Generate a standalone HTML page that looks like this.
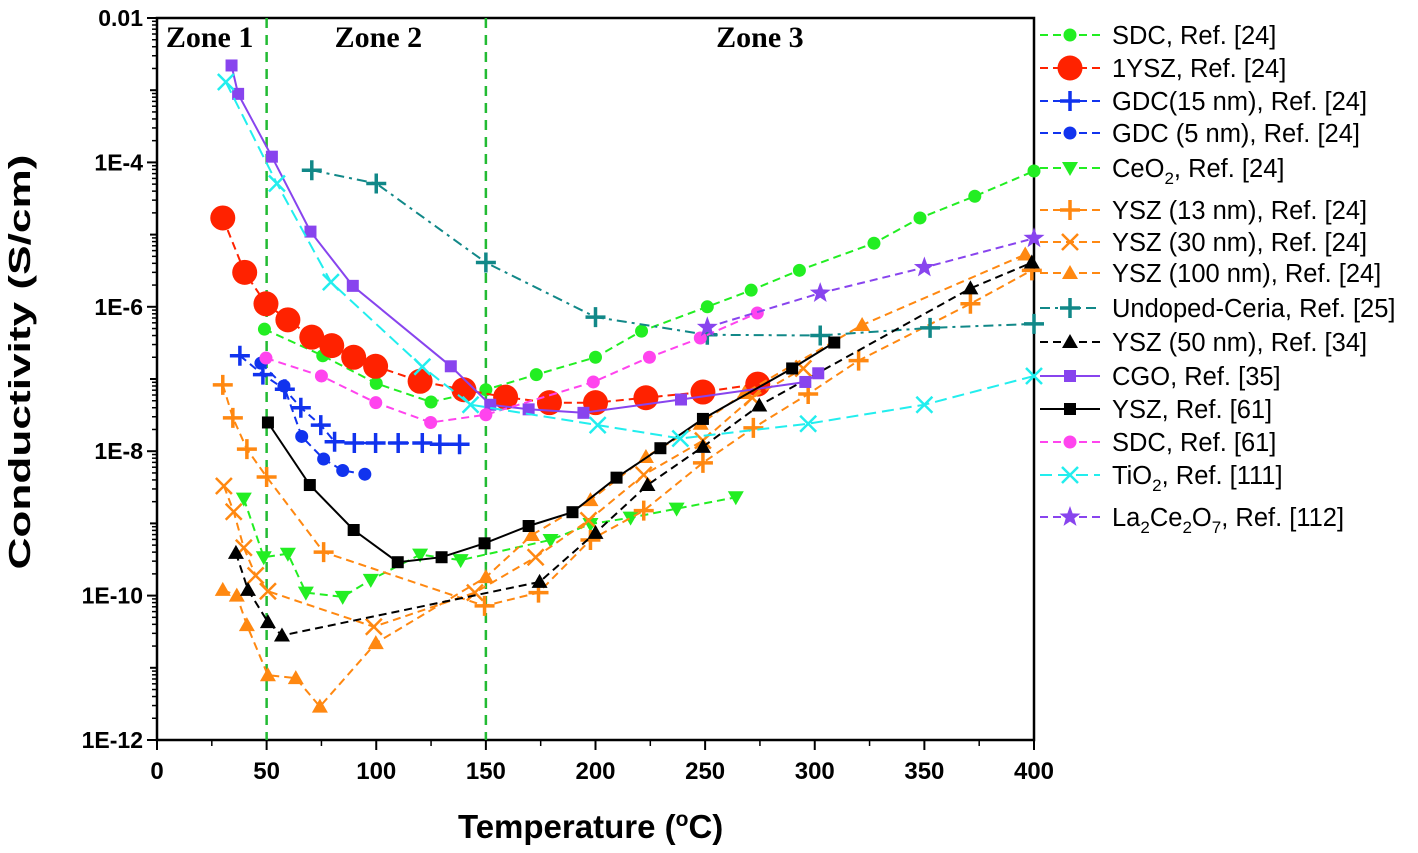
<!DOCTYPE html>
<html><head><meta charset="utf-8"><style>
body{margin:0;background:#fff;}
svg text{font-family:"Liberation Sans",sans-serif;}
</style></head><body>
<svg id="chart" width="1418" height="848" viewBox="0 0 1418 848" xmlns="http://www.w3.org/2000/svg"></svg>
<script>
const xTicks=[0,50,100,150,200,250,300,350,400];
const yTickExps=[-2,-4,-6,-8,-10,-12];
const yTickLabels=["0.01","1E-4","1E-6","1E-8","1E-10","1E-12"];
const zoneBounds=[50,150];
const zoneLabels=["Zone 1","Zone 2","Zone 3"];
const zoneLabelT=[24,101,275];

const sdc24T=[49,75.6,100,125,150,173,200,221,251,271,293,327,348,373,400];
const sdc24V=[4.9e-7,2.1e-7,8.7e-8,4.8e-8,7.1e-8,1.15e-7,2.0e-7,4.6e-7,1e-6,1.7e-6,3.2e-6,7.6e-6,1.7e-5,3.4e-5,7.6e-5];
const ysz1T=[30,40,49.7,59.7,70.6,79.7,89.7,99.7,120,140,159,179,200,223,249,274];
const ysz1V=[1.7e-5,3.0e-6,1.1e-6,6.6e-7,3.8e-7,2.9e-7,2.0e-7,1.5e-7,9.3e-8,7.1e-8,5.6e-8,4.7e-8,4.7e-8,5.5e-8,6.6e-8,8.5e-8];
const gdc15T=[37.8,48.3,58.3,65.6,74.7,81,90,99.7,110,121,129,138];
const gdc15V=[2.1e-7,1.15e-7,7.2e-8,4e-8,2.3e-8,1.35e-8,1.3e-8,1.3e-8,1.3e-8,1.3e-8,1.25e-8,1.25e-8];
const gdc5T=[47.4,57.9,66,76,84.7,94.8];
const gdc5V=[1.66e-7,8e-8,1.6e-8,7.8e-9,5.4e-9,4.8e-9];
const ceo2T=[39.6,48.7,59.7,67.9,84.7,97.5,120,138.5,179.5,197.7,216,237,264];
const ceo2V=[2.2e-9,3.4e-10,3.8e-10,1.1e-10,9.6e-11,1.65e-10,3.7e-10,3.1e-10,5.9e-10,9.8e-10,1.2e-9,1.6e-9,2.3e-9];
const ysz13T=[30,34.6,41,50,76,149.4,174,197.7,222,249,272,297,320,371,399];
const ysz13V=[8.3e-8,2.9e-8,1.07e-8,4.4e-9,4e-10,7.2e-11,1.1e-10,5.9e-10,1.5e-9,6.9e-9,2.1e-8,6.2e-8,1.8e-7,1.1e-6,3.2e-6];
const ysz30T=[30.5,35,39.6,45,50.6,98.9,145,172.7,196.8,222,249,271.5,294.8];
const ysz30V=[3.3e-9,1.45e-9,4.6e-10,1.9e-10,1.15e-10,3.7e-11,1.1e-10,3.4e-10,1.1e-9,4.7e-9,1.4e-8,5.5e-8,1.4e-7];
const ysz100T=[30,36.4,41,50.6,63.3,74.3,99.8,150,171,197.7,223,248,268,321.6,396];
const ysz100V=[1.2e-10,1e-10,3.9e-11,7.9e-12,7.2e-12,2.9e-12,2.2e-11,1.8e-10,6.9e-10,2.1e-9,8.3e-9,2.4e-8,6.4e-8,5.6e-7,5.3e-6];
const ceriaT=[70.6,100,150,200,251,302.5,352.6,400];
const ceriaV=[7.8e-5,5.1e-5,4.1e-6,7.2e-7,4.1e-7,4e-7,5.1e-7,5.8e-7];
const ysz50T=[36,41.5,50.6,57,174.5,200,223.7,249,274.7,371,399];
const ysz50V=[3.9e-10,1.2e-10,4.3e-11,2.8e-11,1.55e-10,7.4e-10,3.4e-9,1.15e-8,4.3e-8,1.8e-6,4.1e-6];
const cgoT=[34,37,52.4,70,89.3,134,152,169.5,194.5,239,295.7,301.6];
const cgoV=[2.2e-3,8.9e-4,1.2e-4,1.1e-5,1.95e-6,1.5e-7,4.4e-8,3.8e-8,3.4e-8,5.2e-8,9.1e-8,1.2e-7];
const ysz61T=[50.6,69.7,89.7,109.8,129.8,149.4,169.5,189.5,209.6,229.6,249,289.7,308.9];
const ysz61V=[2.5e-8,3.4e-9,8.1e-10,2.9e-10,3.4e-10,5.3e-10,9.2e-10,1.43e-9,4.3e-9,1.1e-8,2.8e-8,1.4e-7,3.2e-7];
const sdc61T=[49.7,75,99.8,124.8,150,199,224.6,247.8,273.8];
const sdc61V=[1.95e-7,1.1e-7,4.7e-8,2.5e-8,3.2e-8,9.1e-8,2e-7,3.7e-7,8.2e-7];
const tio2T=[31.4,54.7,79.3,121,143,201,238.7,297,350,400];
const tio2V=[1.3e-3,5.1e-5,2.2e-6,1.48e-7,4.4e-8,2.3e-8,1.5e-8,2.4e-8,4.4e-8,1.1e-7];
const laT=[251,302.5,350,400];
const laV=[5.2e-7,1.55e-6,3.5e-6,8.9e-6];

const X0=157,X1=1034,Y0=18,Y1=740;
const xs=t=>X0+(t-0)/(400-0)*(X1-X0);
const ys=v=>Y0+(-2-Math.log10(v))/10*(Y1-Y0);
const NS="http://www.w3.org/2000/svg";
const svg=document.getElementById('chart');
function mk(tag,attrs,parent){const e=document.createElementNS(NS,tag);for(const k in attrs)e.setAttribute(k,attrs[k]);(parent||svg).appendChild(e);return e;}

const frame=mk('rect',{x:X0,y:Y0,width:X1-X0,height:Y1-Y0,fill:'none',stroke:'#000','stroke-width':2.5});


for(let e=-12;e<=-2;e++){
  for(let m=1;m<10;m++){
    const v=m*Math.pow(10,e); if(v>0.0100001) break;
    const y=ys(v); const major=(m===1&&(e%2===0));
    const tk=mk('line',{x1:X0,x2:X0-(major?10:(m===1?7:5)),y1:y,y2:y,stroke:'#000','stroke-width':m===1?2:1.5});
    
    
  }
}
yTickExps.forEach((e,i)=>{
  const t=mk('text',{x:X0-14,y:ys(Math.pow(10,e))+8,'text-anchor':'end','font-size':23,'font-weight':'bold'});
  t.textContent=yTickLabels[i];
  
  
});
xTicks.forEach(v=>{
  const tk=mk('line',{x1:xs(v),x2:xs(v),y1:Y1,y2:Y1+10,stroke:'#000','stroke-width':2});
  
  
  if(v<400){const m=mk('line',{x1:xs(v+25),x2:xs(v+25),y1:Y1,y2:Y1+6,stroke:'#000','stroke-width':1.5});
  
  }
  const t=mk('text',{x:xs(v),y:Y1+39,'text-anchor':'middle','font-size':24,'font-weight':'bold'});
  t.textContent=v;
  
  
});
const xt=mk('text',{x:458,y:838,'font-size':33,'font-weight':'bold'});
xt.innerHTML='Temperature (<tspan dy="-12" font-size="21">o</tspan><tspan dy="12">C)</tspan>';


const yt=mk('text',{x:0,y:0,transform:'translate(30,362) rotate(-90)','text-anchor':'middle','font-size':31,'font-weight':'bold',textLength:415,lengthAdjust:'spacingAndGlyphs'});
yt.textContent='Conductivity (S/cm)';



zoneBounds.forEach(b=>{
  const l=mk('line',{x1:xs(b),x2:xs(b),y1:Y0,y2:Y1,stroke:'#22bb33','stroke-width':2.5,'stroke-dasharray':'10,7'});
  
  
});
zoneLabels.forEach((z,i)=>{
  const t=mk('text',{x:xs(zoneLabelT[i]),y:47,'text-anchor':'middle','font-size':30,'font-weight':'bold',style:'font-family:"Liberation Serif",serif'});
  t.textContent=z;
  
  
});

function marker(g,type,x,y,c){
  if(type==='circle') mk('circle',{cx:x,cy:y,r:6.5,fill:c},g);
  else if(type==='bigcircle') mk('circle',{cx:x,cy:y,r:12.5,fill:c},g);
  else if(type==='square') mk('rect',{x:x-6,y:y-6,width:12,height:12,fill:c},g);
  else if(type==='tri') mk('path',{d:`M${x},${y-8}L${x+8},${y+6}L${x-8},${y+6}Z`,fill:c},g);
  else if(type==='tridown') mk('path',{d:`M${x},${y+8}L${x+8},${y-6}L${x-8},${y-6}Z`,fill:c},g);
  else if(type==='plus'){mk('path',{d:`M${x-10},${y}H${x+10}M${x},${y-10}V${y+10}`,stroke:c,'stroke-width':3.5,fill:'none'},g);}
  else if(type==='x'){mk('path',{d:`M${x-8},${y-8}L${x+8},${y+8}M${x+8},${y-8}L${x-8},${y+8}`,stroke:c,'stroke-width':2.5,fill:'none'},g);}
  else if(type==='star'){let p='';for(let i=0;i<10;i++){const r=i%2?4.5:11;const a=-Math.PI/2+i*Math.PI/5;p+=(i?'L':'M')+(x+r*Math.cos(a)).toFixed(1)+','+(y+r*Math.sin(a)).toFixed(1);}mk('path',{d:p+'Z',fill:c},g);}
}
const series=[
 {name:'SDC, Ref. [24]',T:sdc24T,V:sdc24V,c:'#22ee22',m:'circle',dash:'8,5',lc:'#22ee22',id:'sdc-ref24',ly:35},
 {name:'1YSZ, Ref. [24]',T:ysz1T,V:ysz1V,c:'#ff2200',m:'bigcircle',dash:'8,5',lc:'#ff2200',id:'1ysz-ref24',ly:68},
 {name:'GDC(15 nm), Ref. [24]',T:gdc15T,V:gdc15V,c:'#1133ee',m:'plus',dash:'8,5',lc:'#1133ee',id:'gdc15-ref24',ly:101},
 {name:'GDC (5 nm), Ref. [24]',T:gdc5T,V:gdc5V,c:'#1133ee',m:'circle',dash:'8,5',lc:'#1133ee',id:'gdc5-ref24',ly:133},
 {name:'CeO2',T:ceo2T,V:ceo2V,c:'#22ee22',m:'tridown',dash:'8,5',lc:'#22ee22',id:'ceo2-ref24',ly:168,html:'CeO<tspan dy="7" font-size="17">2</tspan><tspan dy="-7">, Ref. [24]</tspan>'},
 {name:'YSZ (13 nm), Ref. [24]',T:ysz13T,V:ysz13V,c:'#ff8811',m:'plus',dash:'8,5',lc:'#ff8811',id:'ysz13-ref24',ly:210},
 {name:'YSZ (30 nm), Ref. [24]',T:ysz30T,V:ysz30V,c:'#ff8811',m:'x',dash:'8,5',lc:'#ff8811',id:'ysz30-ref24',ly:242},
 {name:'YSZ (100 nm), Ref. [24]',T:ysz100T,V:ysz100V,c:'#ff8811',m:'tri',dash:'8,5',lc:'#ff8811',id:'ysz100-ref24',ly:273},
 {name:'Undoped-Ceria, Ref. [25]',T:ceriaT,V:ceriaV,c:'#118888',m:'plus',dash:'10,5,3,5',lc:'#118888',id:'undoped-ceria-ref25',ly:308},
 {name:'YSZ (50 nm), Ref. [34]',T:ysz50T,V:ysz50V,c:'#000',m:'tri',dash:'8,5',lc:'#000',id:'ysz50-ref34',ly:342},
 {name:'CGO, Ref. [35]',T:cgoT,V:cgoV,c:'#8844ee',m:'square',dash:'',lc:'#8844ee',id:'cgo-ref35',ly:376},
 {name:'YSZ, Ref. [61]',T:ysz61T,V:ysz61V,c:'#000',m:'square',dash:'',lc:'#000',id:'ysz-ref61',ly:409},
 {name:'SDC, Ref. [61]',T:sdc61T,V:sdc61V,c:'#ff44ee',m:'circle',dash:'8,5',lc:'#ff44ee',id:'sdc-ref61',ly:442},
 {name:'TiO2',T:tio2T,V:tio2V,c:'#22eeee',m:'x',dash:'12,6',lc:'#22eeee',id:'tio2-ref111',ly:475,html:'TiO<tspan dy="7" font-size="17">2</tspan><tspan dy="-7">, Ref. [111]</tspan>'},
 {name:'La2Ce2O7',T:laT,V:laV,c:'#8844ee',m:'star',dash:'8,5',lc:'#8844ee',id:'la2ce2o7-ref112',ly:517,html:'La<tspan dy="7" font-size="17">2</tspan><tspan dy="-7">Ce</tspan><tspan dy="7" font-size="17">2</tspan><tspan dy="-7">O</tspan><tspan dy="7" font-size="17">7</tspan><tspan dy="-7">, Ref. [112]</tspan>'}
];
series.forEach(s=>{
  const g=mk('g',{});
  
  
  const pts=s.T.map((t,i)=>xs(t).toFixed(1)+','+ys(s.V[i]).toFixed(1)).join(' ');
  const pl=mk('polyline',{points:pts,fill:'none',stroke:s.lc,'stroke-width':2,'stroke-dasharray':s.dash},g);
  
  
  s.T.forEach((t,i)=>marker(g,s.m,xs(t),ys(s.V[i]),s.c));
  const lg=mk('g',{});
  
  
  mk('line',{x1:1040,x2:1100,y1:s.ly,y2:s.ly,stroke:s.lc,'stroke-width':2,'stroke-dasharray':s.dash},lg);
  marker(lg,s.m,1070,s.ly,s.c);
  const tx=mk('text',{x:1112,y:s.ly+9,'font-size':25.5},lg);
  if(s.html) tx.innerHTML=s.html; else tx.textContent=s.name;
});
</script>
</body></html>
